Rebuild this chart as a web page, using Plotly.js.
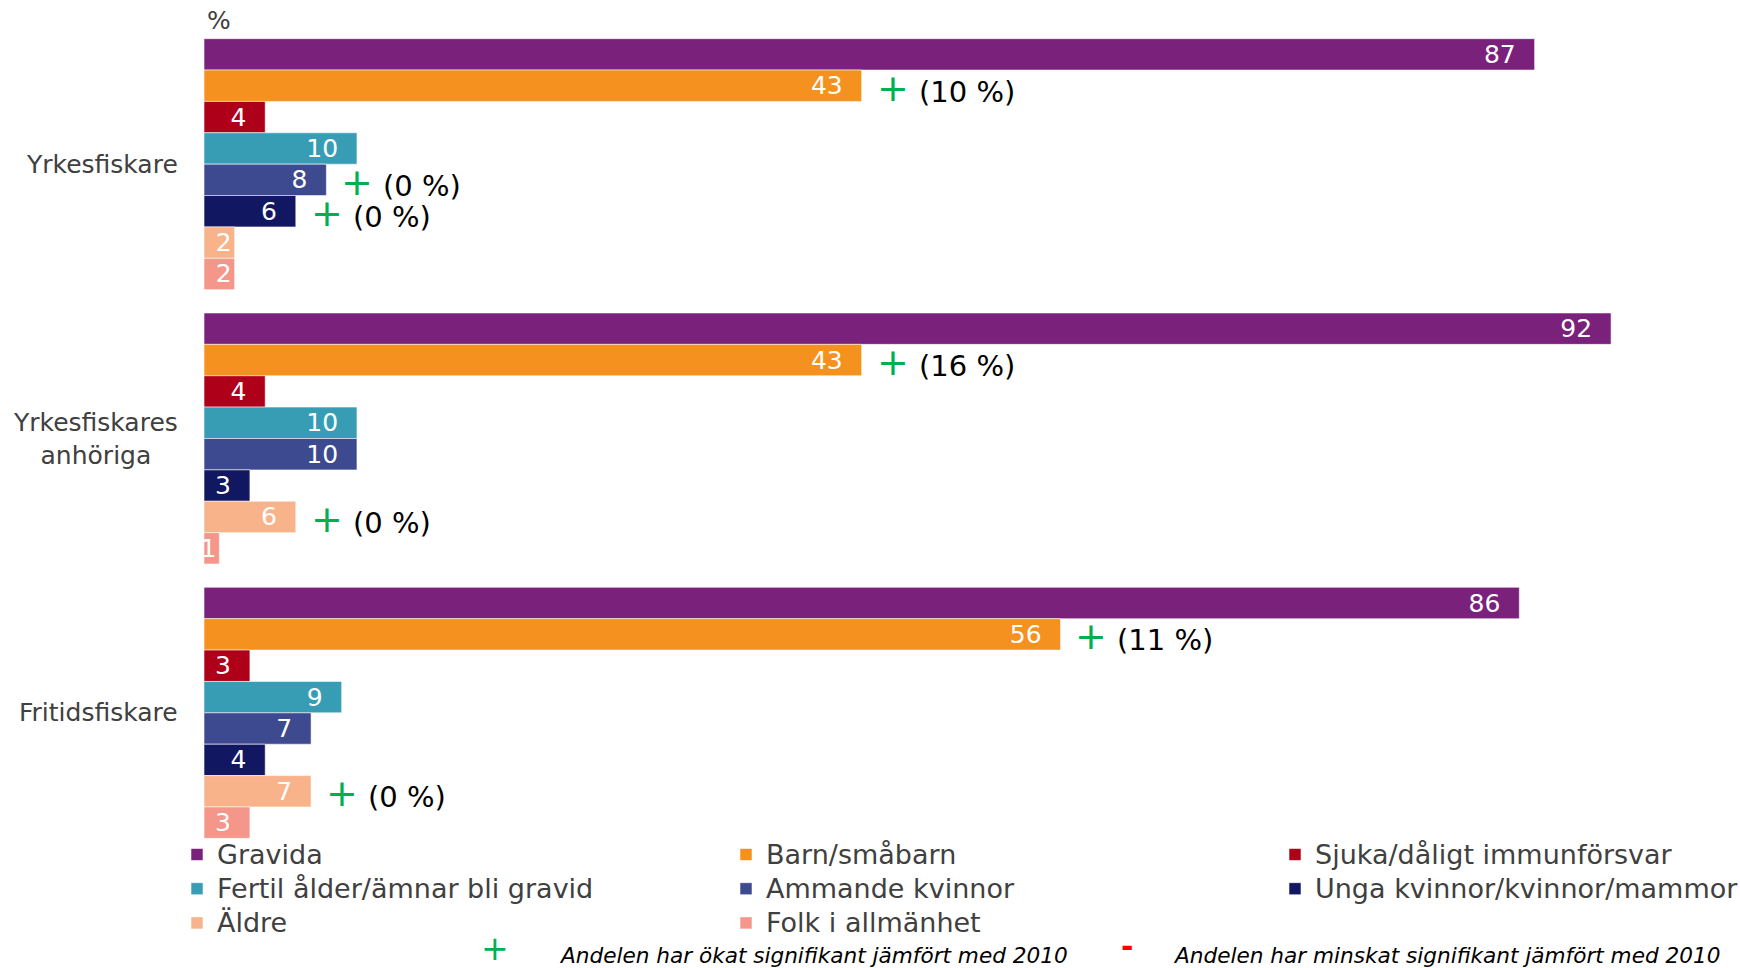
<!DOCTYPE html>
<html>
<head>
<meta charset="utf-8">
<script src="https://cdn.plot.ly/plotly-3.0.1.min.js"></script>
<style>
  html, body { margin: 0; padding: 0; background: #ffffff; overflow: hidden; }
  #chart { width: 1740px; height: 968px; }
</style>
</head>
<body>
<div id="chart"></div>
<script>
// ---- data ----
const categories = ['Yrkesfiskare', 'Yrkesfiskares anhöriga', 'Fritidsfiskare'];
const categoryLabels = ['Yrkesfiskare', 'Yrkesfiskares<br>anhöriga', 'Fritidsfiskare'];
const groups = [
  'Gravida', 'Barn/småbarn', 'Sjuka/dåligt immunförsvar',
  'Fertil ålder/ämnar bli gravid', 'Ammande kvinnor', 'Unga kvinnor/kvinnor/mammor',
  'Äldre', 'Folk i allmänhet'
];
const gravida  = [87, 92, 86];
const barn     = [43, 43, 56];
const sjuka    = [4, 4, 3];
const fertil   = [10, 10, 9];
const ammande  = [8, 10, 7];
const unga     = [6, 3, 4];
const aldre    = [2, 6, 7];
const folk     = [2, 1, 3];
const seriesValues = [gravida, barn, sjuka, fertil, ammande, unga, aldre, folk];

// significant increases compared with 2010 (value in brackets = 2010 share)
const sigCategory = ['Yrkesfiskare', 'Yrkesfiskare', 'Yrkesfiskare',
                     'Yrkesfiskares anhöriga', 'Yrkesfiskares anhöriga',
                     'Fritidsfiskare', 'Fritidsfiskare'];
const sigGroup = ['Barn/småbarn', 'Ammande kvinnor', 'Unga kvinnor/kvinnor/mammor',
                  'Barn/småbarn', 'Äldre',
                  'Barn/småbarn', 'Äldre'];
const sigValue2010 = [10, 0, 0, 16, 0, 11, 0];

const unitLabel = '%';
const noteUp = 'Andelen har ökat signifikant jämfört med 2010';
const noteDown = 'Andelen har minskat signifikant jämfört med 2010';

// ---- styles ----
const colors = ['#7A217C', '#F5911F', '#AF0019', '#379DB5', '#3D4A8F', '#111760', '#F9B38B', '#F4968A'];
const FONT = 'DejaVu Sans, Verdana, sans-serif';
const TEXT_GREY = '#404040';
const PLUS_GREEN = '#00B050';
const BARGAP = 0.085;

const traces = groups.map((g, i) => {
  const t = {
    type: 'bar',
    orientation: 'h',
    name: '<span style="font-size:27px">' + g + '</span>',
    y: categories,
    x: seriesValues[i],
    marker: { color: colors[i], line: { color: 'rgba(255,255,255,0.55)', width: 1 } },
    text: seriesValues[i].map(v => v >= 3 ? v + '\u00a0\u00a0' : String(v)),
    textposition: 'inside',
    insidetextanchor: 'end',
    textangle: 0,
    constraintext: 'none',
    textfont: { family: FONT, size: 25, color: '#ffffff' },
    hoverinfo: 'x'
  };
  if (i % 3 === 2) t.legendwidth = 418;
  return t;
});

const nG = groups.length;
const barW = (1 - BARGAP) / nG;
function barCenter(ci, gi) { return ci - (1 - BARGAP) / 2 + (gi + 0.5) * barW; }

const annotations = [];

// category labels
categories.forEach((c, ci) => {
  annotations.push({
    xref: 'x', yref: 'y', x: 0, y: ci, xanchor: 'right', yanchor: 'middle', xshift: -24,
    text: categoryLabels[ci], align: 'center', showarrow: false,
    font: { family: FONT, size: 25, color: TEXT_GREY }
  });
});

// unit label
annotations.push({
  xref: 'x', yref: 'paper', x: 0, y: (850 - 20) / 823, xanchor: 'left', yanchor: 'middle', xshift: 1,
  text: unitLabel, showarrow: false, font: { family: FONT, size: 25, color: TEXT_GREY }
});

// significance markers
sigCategory.forEach((c, k) => {
  const ci = categories.indexOf(c);
  const gi = groups.indexOf(sigGroup[k]);
  const v = seriesValues[gi][ci];
  const yc = barCenter(ci, gi);
  annotations.push({
    xref: 'x', yref: 'y', x: v, y: yc, xanchor: 'center', yanchor: 'middle', xshift: 31, yshift: -2,
    text: '+', showarrow: false, font: { family: FONT, size: 38, color: PLUS_GREEN }
  });
  annotations.push({
    xref: 'x', yref: 'y', x: v, y: yc, xanchor: 'left', yanchor: 'middle', xshift: 55, yshift: -6,
    text: '(' + sigValue2010[k] + ' %)', showarrow: false, font: { family: FONT, size: 29, color: '#000000' }
  });
});

// footnote
annotations.push({
  xref: 'paper', yref: 'paper', x: 495 / 1740, y: (850 - 948) / 823, xanchor: 'center', yanchor: 'middle',
  text: '+', showarrow: false, font: { family: FONT, size: 33, color: PLUS_GREEN }
});
annotations.push({
  xref: 'paper', yref: 'paper', x: 557 / 1740, y: (850 - 955) / 823, xanchor: 'left', yanchor: 'middle',
  text: '<i>' + noteUp + '</i>', showarrow: false, font: { family: FONT, size: 21.6, color: '#000000' }
});
annotations.push({
  xref: 'paper', yref: 'paper', x: 1127 / 1740, y: (850 - 946) / 823, xanchor: 'center', yanchor: 'middle',
  text: '<b>-</b>', showarrow: false, font: { family: FONT, size: 30, color: '#FF0000' }
});
annotations.push({
  xref: 'paper', yref: 'paper', x: 1171 / 1740, y: (850 - 955) / 823, xanchor: 'left', yanchor: 'middle',
  text: '<i>' + noteDown + '</i>', showarrow: false, font: { family: FONT, size: 21.6, color: '#000000' }
});

const layout = {
  width: 1740, height: 968,
  margin: { l: 0, r: 0, t: 27, b: 118, pad: 0 },
  paper_bgcolor: '#ffffff', plot_bgcolor: '#ffffff',
  font: { family: FONT, color: TEXT_GREY },
  barmode: 'group', bargap: BARGAP, bargroupgap: 0,
  xaxis: { range: [-13.34, 100.43], visible: false, fixedrange: true },
  yaxis: { type: 'category', categoryorder: 'array', categoryarray: categories,
           range: [2.5, -0.5], visible: false, fixedrange: true },
  showlegend: true,
  legend: {
    orientation: 'h', traceorder: 'normal',
    x: 177 / 1740, xanchor: 'left', y: (850 - 832.4) / 823, yanchor: 'top',
    entrywidth: 504, entrywidthmode: 'pixels',
    font: { family: FONT, size: 24, color: TEXT_GREY },
    bgcolor: 'rgba(0,0,0,0)', borderwidth: 0
  },
  annotations: annotations
};

Plotly.newPlot('chart', traces, layout, { displayModeBar: false, staticPlot: true });
</script>
</body>
</html>
